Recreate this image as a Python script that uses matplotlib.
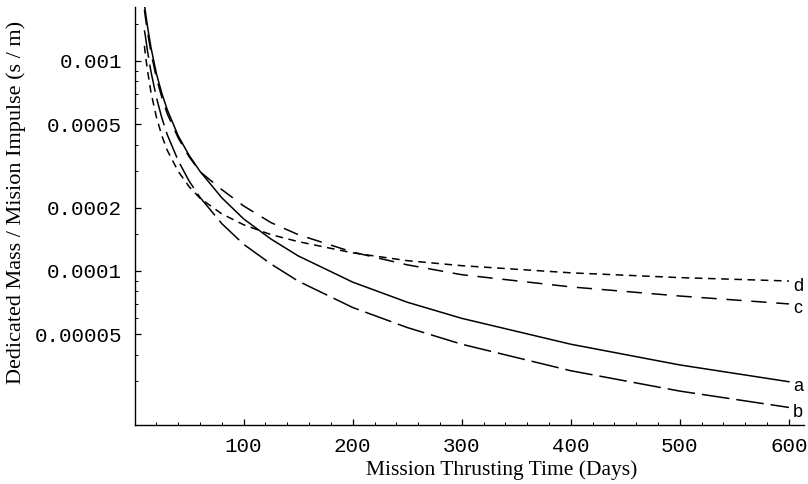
import matplotlib
matplotlib.use("Agg")
import matplotlib.pyplot as plt
from matplotlib.ticker import FixedLocator, NullFormatter

plt.rcParams["lines.scale_dashes"] = False

# mission thrusting time (days)
dias = [9, 10, 12, 15, 20, 25, 30, 40, 50, 60, 80, 100, 125, 150, 200, 250, 300, 400, 500, 600]

# dedicated mass / mission impulse (s/m)
curva_a = [1.85e-3, 1.70e-3, 1.44e-3, 1.16e-3, 8.7e-4, 7.0e-4, 5.85e-4, 4.4e-4, 3.55e-4, 2.98e-4,
           2.23e-4, 1.77e-4, 1.42e-4, 1.18e-4, 8.85e-5, 7.1e-5, 5.95e-5, 4.48e-5, 3.57e-5, 2.97e-5]
curva_b = [1.40e-3, 1.30e-3, 1.10e-3, 8.9e-4, 6.7e-4, 5.35e-4, 4.45e-4, 3.35e-4, 2.68e-4, 2.24e-4,
           1.68e-4, 1.34e-4, 1.08e-4, 8.95e-5, 6.7e-5, 5.38e-5, 4.48e-5, 3.35e-5, 2.68e-5, 2.24e-5]
curva_c = [1.75e-3, 1.60e-3, 1.36e-3, 1.10e-3, 8.3e-4, 6.7e-4, 5.6e-4, 4.3e-4, 3.5e-4, 2.97e-4,
           2.44e-4, 2.04e-4, 1.70e-4, 1.49e-4, 1.23e-4, 1.07e-4, 9.6e-5, 8.4e-5, 7.6e-5, 6.97e-5]
curva_d = [1.18e-3, 1.06e-3, 8.9e-4, 7.1e-4, 5.4e-4, 4.4e-4, 3.75e-4, 2.98e-4, 2.52e-4, 2.22e-4,
           1.87e-4, 1.66e-4, 1.49e-4, 1.38e-4, 1.22e-4, 1.12e-4, 1.06e-4, 9.8e-5, 9.3e-5, 8.96e-5]

etiquetas = ["a", "b", "c", "d"]
y_ticks = [0.00005, 0.0001, 0.0002, 0.0005, 0.001]
y_tick_labels = ["0.00005", "0.0001", "0.0002", "0.0005", "0.001"]
x_ticks = [100, 200, 300, 400, 500, 600]

estilos = {
    "a": dict(linestyle="-"),
    "b": dict(dashes=(20, 5)),
    "c": dict(dashes=(11, 7)),
    "d": dict(dashes=(5.5, 4)),
}

fig = plt.figure(figsize=(8.08, 4.84), dpi=100)
ax = fig.add_axes([134.6 / 808, 1 - 425 / 484, (804.2 - 134.6) / 808, (425 - 7) / 484])

for nombre, serie in zip(etiquetas, [curva_a, curva_b, curva_c, curva_d]):
    ax.plot(dias, serie, color="black", lw=1.1, **estilos[nombre])
    ax.annotate(nombre, (dias[-1], serie[-1]), xytext=(4, -5), textcoords="offset pixels",
                ha="left", va="center", fontsize=13, family="Liberation Sans")

ax.set_yscale("log")
ax.set_xlim(0, 614)
ax.set_ylim(1.848e-5, 1.807e-3)

ax.yaxis.set_major_locator(FixedLocator(y_ticks))
ax.set_yticklabels(y_tick_labels)
menores_y = [m * 10.0 ** e for e in (-5, -4, -3) for m in (3, 4, 6, 7, 8, 9)]
menores_y += [1.5e-4, 1.5e-3]
ax.yaxis.set_minor_locator(FixedLocator(menores_y))
ax.yaxis.set_minor_formatter(NullFormatter())

ax.xaxis.set_major_locator(FixedLocator(x_ticks))
ax.xaxis.set_minor_locator(FixedLocator([v for v in range(20, 620, 20) if v % 100]))

for s in ("top", "right"):
    ax.spines[s].set_visible(False)
for s in ("left", "bottom"):
    ax.spines[s].set_linewidth(1.0)

ax.tick_params(which="major", direction="in", length=4.5, width=0.9, pad=9)
ax.tick_params(which="minor", direction="in", length=2.5, width=0.7)
for lab in ax.get_xticklabels() + ax.get_yticklabels():
    lab.set_family("Liberation Mono")
    lab.set_fontsize(15)

fig.text(502 / 808, 1 - 470 / 484, "Mission Thrusting Time (Days)", ha="center", va="center",
         fontsize=15.5, family="Liberation Serif")
fig.text(16 / 808, 1 - 202 / 484, "Dedicated Mass / Mision Impulse (s / m)", rotation=90,
         ha="center", va="center", fontsize=16, family="Liberation Serif")

fig.savefig("out.png", dpi=100)
